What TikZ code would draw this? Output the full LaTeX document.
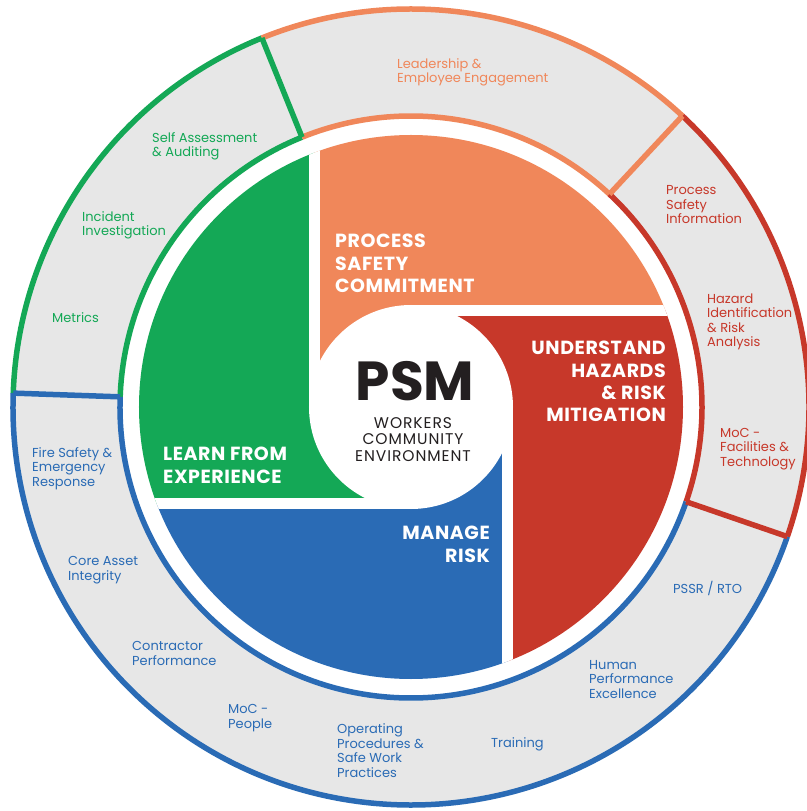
\documentclass[tikz,border=0pt]{standalone}
\usepackage{fontspec}
\setmainfont{Poppins}
\usepackage{tikz}

\definecolor{psmgreen}{HTML}{14A856}
\definecolor{psmorange}{HTML}{F0875A}
\definecolor{psmred}{HTML}{C7382A}
\definecolor{psmblue}{HTML}{2A6BB5}
\definecolor{ringgray}{HTML}{E7E7E7}
\definecolor{psmtext}{HTML}{231F20}

\begin{document}
\begin{tikzpicture}[x=1pt, y=1pt,
    % multi-line nodes sit on the baseline of their last line
    ringlabel/.style={anchor=base west, align=left, inner sep=0pt, font=\fontsize{13}{14.5}\selectfont},
    headlabel/.style={inner sep=0pt, text=white, font=\fontsize{19}{22.5}\selectfont\bfseries\addfontfeature{LetterSpace=3}},
    ringline/.style={line width=5.5pt}]

    % 1. Page and background
    \fill[white] (-411,-404) rectangle (395,407);
    \useasboundingbox (-411,-404) rectangle (395,407);

    % 2. Radii of the wheel
    \def\rc{96.5}   % centre circle
    \def\gap{5.5}   % half width of the white gaps
    \def\rd{272}    % coloured disc
    \def\ri{291}    % inner edge of the outer ring
    \def\ro{398}    % outer edge of the outer ring

    % 3. Outer ring
    \fill[ringgray, even odd rule] (0,0) circle[radius=\ro] (0,0) circle[radius=\ri];
    % arcs of each sector
    \foreach \col/\a/\b in {psmgreen/112/178, psmorange/47/112, psmred/-19/47, psmblue/178/341} {
        \draw[\col, ringline] (\a:\ro) arc[start angle=\a, end angle=\b, radius=\ro];
        \draw[\col, ringline] (\a:\ri) arc[start angle=\a, end angle=\b, radius=\ri];
    }
    % dividers go on top of the arcs
    \foreach \col/\a in {psmgreen/112, psmorange/47, psmred/-19, psmblue/178}
        \draw[\col, ringline] (\a:\ri) -- (\a:\ro);

    % 4. Pinwheel quarters
    \begin{scope}
        \clip (0,0) circle[radius=\rd];
        \fill[psmorange] (-\rc,0) -- (-\rc,\rd) -- (\rd,\rd) -- (\rd,\rc) -- (0,\rc)
            arc[start angle=90, end angle=180, radius=\rc] -- cycle;
        \fill[psmred] (0,\rc) -- (\rd,\rc) -- (\rd,-\rd) -- (\rc,-\rd) -- (\rc,0)
            arc[start angle=0, end angle=90, radius=\rc] -- cycle;
        \fill[psmblue] (\rc,0) -- (\rc,-\rd) -- (-\rd,-\rd) -- (-\rd,-\rc) -- (0,-\rc)
            arc[start angle=270, end angle=360, radius=\rc] -- cycle;
        \fill[psmgreen] (0,-\rc) -- (-\rd,-\rc) -- (-\rd,\rd) -- (-\rc,\rd) -- (-\rc,0)
            arc[start angle=180, end angle=270, radius=\rc] -- cycle;
        % white gaps between the quarters
        \fill[white] (0,0) circle[radius=\rc+\gap];
        \draw[white, line width=2*\gap] (-\rc,0) -- (-\rc,\rd) (0,\rc) -- (\rd,\rc)
            (\rc,0) -- (\rc,-\rd) (0,-\rc) -- (-\rd,-\rc);
    \end{scope}

    % 5. Quarter headings
    \node[headlabel, anchor=base west, align=left] (commit) at (-76,114) {PROCESS\\SAFETY\\COMMITMENT};
    \node[headlabel, anchor=base east, align=right] (hazards) at (255,-15) {UNDERSTAND\\HAZARDS\\\& RISK\\MITIGATION};
    \node[headlabel, anchor=base east, align=right] (manage) at (79,-155) {MANAGE\\RISK};
    \node[headlabel, anchor=base west, align=left] (learn) at (-248,-76) {LEARN FROM\\EXPERIENCE};

    % 6. Centre
    \node[anchor=base, inner sep=0pt, text depth=0pt, text=psmtext, font=\fontsize{55}{55}\selectfont\bfseries] (psm) at (4,6) {PSM};
    \node[anchor=base, align=center, inner sep=0pt, text=psmtext, font=\fontsize{15.5}{16.5}\selectfont\addfontfeature{LetterSpace=6}] (who) at (2,-54) {WORKERS\\COMMUNITY\\ENVIRONMENT};

    % 7. Ring labels, green sector
    \node[ringlabel, text=psmgreen] (audit) at (-259,250) {Self Assessment\\\& Auditing};
    \node[ringlabel, text=psmgreen] (incident) at (-329,171) {Incident\\Investigation};
    \node[ringlabel, text=psmgreen] (metrics) at (-359,84) {Metrics};
    % orange sector
    \node[ringlabel, text=psmorange] (leader) at (-14,324) {Leadership \&\\Employee Engagement};
    % red sector
    \node[ringlabel, text=psmred] (psi) at (255,183) {Process\\Safety\\Information};
    \node[ringlabel, text=psmred] (hira) at (296,60) {Hazard\\Identification\\\& Risk\\Analysis};
    \node[ringlabel, text=psmred] (mocft) at (309,-59) {MoC -\\Facilities \&\\Technology};
    % blue sector
    \node[ringlabel, text=psmblue] (fire) at (-379,-79) {Fire Safety \&\\Emergency\\Response};
    \node[ringlabel, text=psmblue] (core) at (-343,-173) {Core Asset\\Integrity};
    \node[ringlabel, text=psmblue] (contr) at (-279,-258) {Contractor\\Performance};
    \node[ringlabel, text=psmblue] (mocp) at (-183,-321) {MoC -\\People};
    \node[ringlabel, text=psmblue] (oper) at (-74,-370) {Operating\\Procedures \&\\Safe Work\\Practices};
    \node[ringlabel, text=psmblue] (train) at (80,-340) {Training};
    \node[ringlabel, text=psmblue] (human) at (178,-291) {Human\\Performance\\Excellence};
    \node[ringlabel, text=psmblue] (pssr) at (262,-186) {PSSR / RTO};

\end{tikzpicture}
\end{document}
